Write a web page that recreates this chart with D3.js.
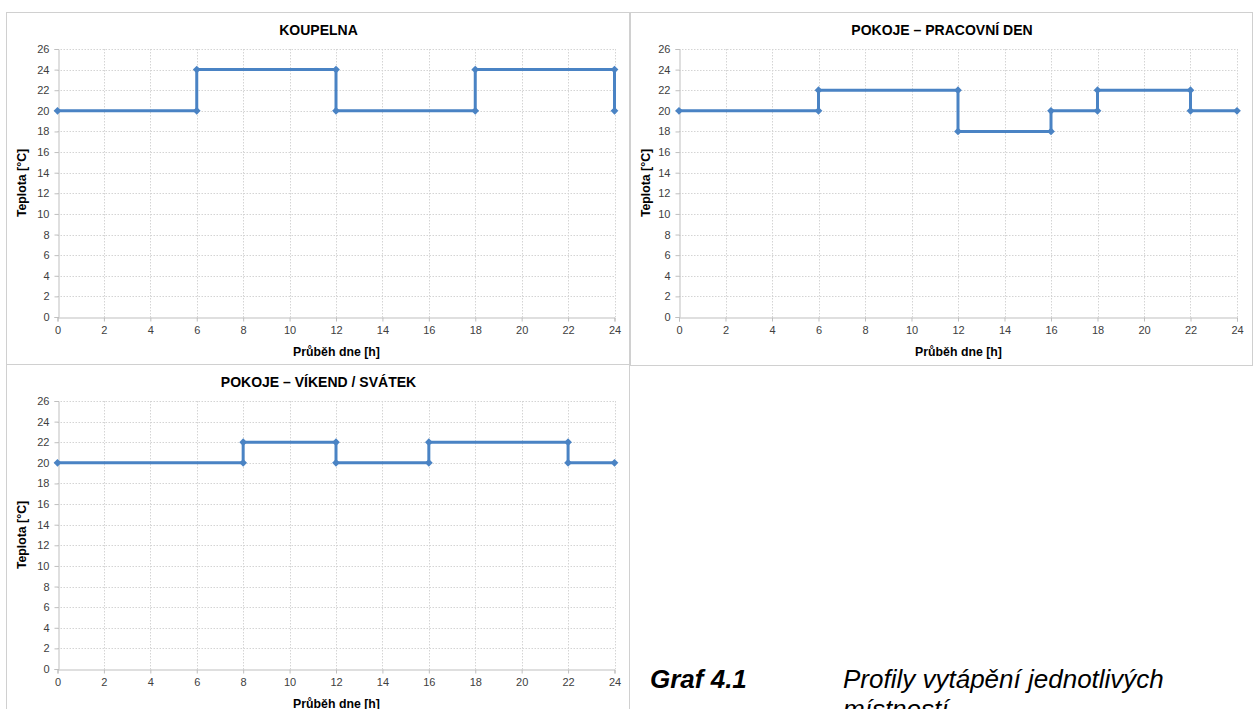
<!DOCTYPE html>
<html><head><meta charset="utf-8">
<script src="https://cdn.jsdelivr.net/npm/d3@7"></script>
<style>
body{margin:0;background:#fff;}
svg{display:block;font-family:"Liberation Sans",Arial,sans-serif;}
</style></head>
<body><svg id="c" width="1254" height="709"></svg>
<script>
// ---- data ----
const titles = ["KOUPELNA", "POKOJE – PRACOVNÍ DEN", "POKOJE – VÍKEND / SVÁTEK"];
const xTicks = [0,2,4,6,8,10,12,14,16,18,20,22,24];
const yTicks = [0,2,4,6,8,10,12,14,16,18,20,22,24,26];
const hoursKoupelna = [0,6,6,12,12,18,18,24,24];
const tempKoupelna  = [20,20,24,24,20,20,24,24,20];
const hoursPracovni = [0,6,6,12,12,16,16,18,18,22,22,24];
const tempPracovni  = [20,20,22,22,18,18,20,20,22,22,20,20];
const hoursVikend   = [0,8,8,12,12,16,16,22,22,24];
const tempVikend    = [20,20,22,22,20,20,22,22,20,20];
const xLabel = "Průběh dne [h]";
const yLabel = "Teplota [°C]";
const captionNum = "Graf 4.1";
const captionText = ["Profily vytápění jednotlivých", "místností"];

const series = [
  {h: hoursKoupelna, t: tempKoupelna},
  {h: hoursPracovni, t: tempPracovni},
  {h: hoursVikend, t: tempVikend}
];

// ---- layout ----
const panels = [
  {fx0:6.5, fy0:12.5, fx1:629.5, fy1:364.5, l:57.5, r:614.5, t:49, b:317},
  {fx0:630.5, fy0:12.5, fx1:1252.5, fy1:365.5, l:679, r:1237, t:49, b:317},
  {fx0:6.5, fy0:364.5, fx1:629.5, fy1:720, l:57.5, r:614.5, t:401, b:669}
];

const svg = d3.select("#c");
const blue = "#4a83c4";

panels.forEach((p, i) => {
  const g = svg.append("g");
  g.append("rect").attr("x", p.fx0).attr("y", p.fy0)
    .attr("width", p.fx1 - p.fx0).attr("height", p.fy1 - p.fy0)
    .attr("fill", "#fff").attr("stroke", "#d0d0d0").attr("stroke-width", 1);

  const x = d3.scaleLinear().domain([0, 24]).range([p.l, p.r]);
  const y = d3.scaleLinear().domain([0, 26]).range([p.b, p.t]);

  // grid
  g.append("g").selectAll("line").data(yTicks.filter(v => v > 0)).join("line")
    .attr("x1", p.l).attr("x2", p.r)
    .attr("y1", d => Math.round(y(d)) + 0.5).attr("y2", d => Math.round(y(d)) + 0.5)
    .attr("stroke", "#d4d4d4").attr("stroke-dasharray", "1.5,1.5");
  g.append("g").selectAll("line").data(xTicks.filter(v => v > 0)).join("line")
    .attr("x1", d => Math.round(x(d)) + 0.5).attr("x2", d => Math.round(x(d)) + 0.5)
    .attr("y1", p.t).attr("y2", p.b)
    .attr("stroke", "#d4d4d4").attr("stroke-dasharray", "1.5,1.5");

  // axes
  const xa = g.append("g").attr("transform", `translate(0,${Math.round(p.b) + 0.5})`)
    .call(d3.axisBottom(x).tickValues(xTicks).tickSize(4).tickPadding(5).tickFormat(d3.format("d")));
  const ya = g.append("g").attr("transform", `translate(${Math.round(p.l) + 0.5},0)`)
    .call(d3.axisLeft(y).tickValues(yTicks).tickSize(4).tickPadding(5).tickFormat(d3.format("d")));
  [xa, ya].forEach(a => {
    a.select(".domain").attr("stroke", "#bfbfbf");
    a.selectAll(".tick line").attr("stroke", "#bfbfbf");
    a.selectAll(".tick text").attr("fill", "#404040").attr("font-size", 11)
      .attr("font-family", "Liberation Sans, Arial, sans-serif");
  });

  // title
  g.append("text").attr("x", (p.fx0 + p.fx1) / 2 + 0.5).attr("y", p.fy0 + 22.5)
    .attr("text-anchor", "middle").attr("font-weight", "bold").attr("font-size", 14)
    .attr("fill", "#000").text(titles[i]);
  // axis titles
  g.append("text").attr("x", (p.l + p.r) / 2 + 0.5).attr("y", p.b + 39)
    .attr("text-anchor", "middle").attr("font-weight", "bold").attr("font-size", 12.3)
    .attr("fill", "#000").text(xLabel);
  g.append("text").attr("transform", `translate(${p.fx0 + 19},${(p.t + p.b) / 2}) rotate(-90)`)
    .attr("text-anchor", "middle").attr("font-weight", "bold").attr("font-size", 12.3)
    .attr("fill", "#000").text(yLabel);

  // line
  const s = series[i];
  const pts = s.h.map((h, k) => [h, s.t[k]]);
  g.append("path").datum(pts)
    .attr("d", d3.line().x(d => x(d[0])).y(d => y(d[1])))
    .attr("fill", "none").attr("stroke", blue).attr("stroke-width", 3)
    .attr("stroke-linejoin", "round");
  g.append("g").selectAll("path").data(pts).join("path")
    .attr("transform", d => `translate(${x(d[0])},${y(d[1])})`)
    .attr("d", d3.symbol(d3.symbolDiamond2, 38))
    .attr("fill", blue);
});

// caption
svg.append("text").attr("x", 650).attr("y", 688).attr("font-size", 26)
  .attr("font-weight", "bold").attr("font-style", "italic").attr("fill", "#000")
  .text(captionNum);
svg.append("text").attr("x", 843).attr("y", 688).attr("font-size", 26)
  .attr("font-style", "italic").attr("fill", "#000")
  .selectAll("tspan").data(captionText).join("tspan")
  .attr("x", 843).attr("dy", (d, k) => k === 0 ? 0 : 30).text(d => d);
</script></body></html>
